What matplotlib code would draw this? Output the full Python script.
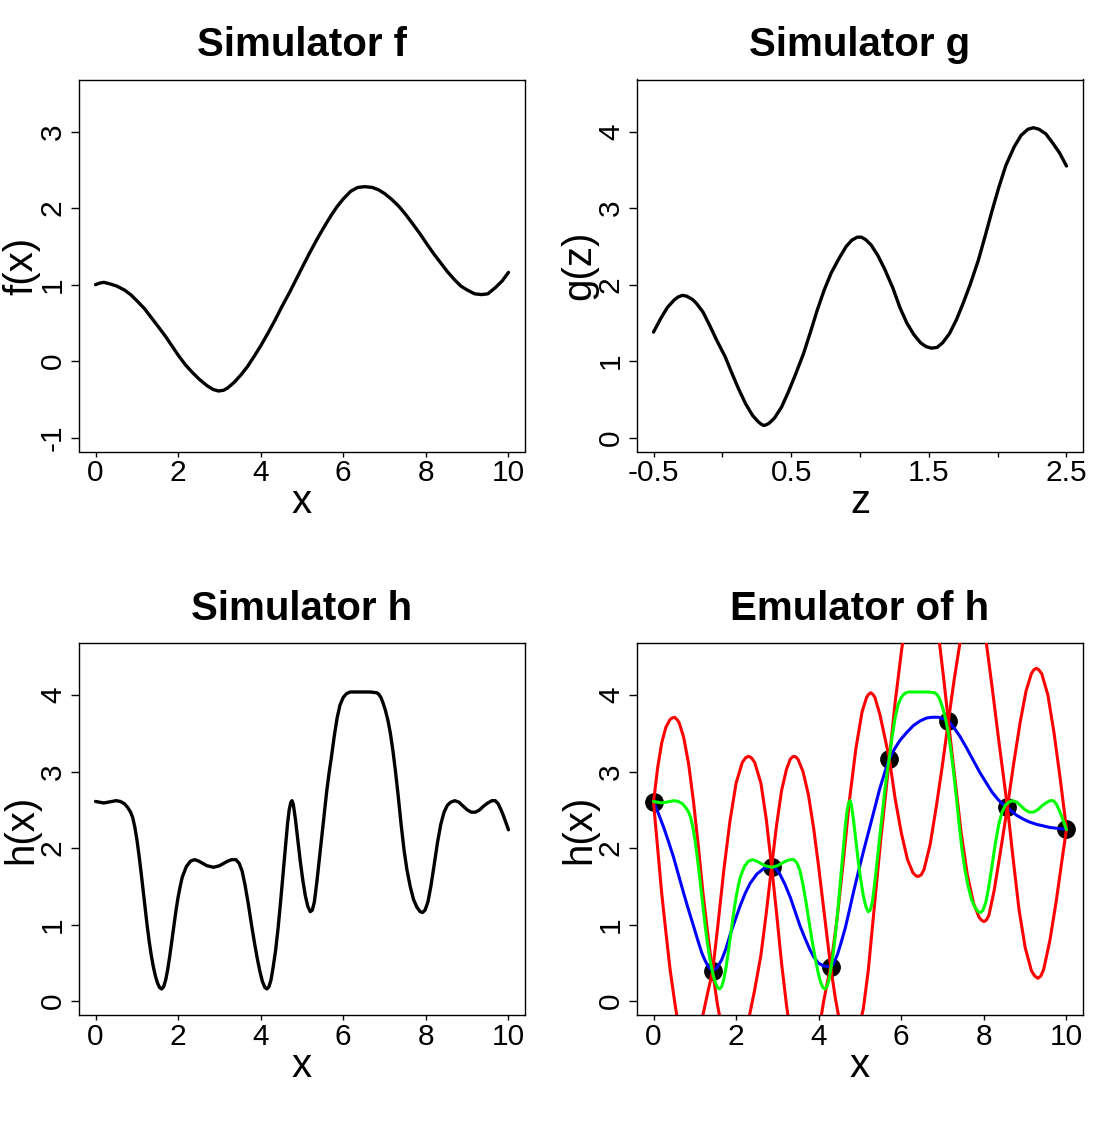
"""Four panels: simulators f, g, h = g(f(x)) and a GP emulator of h."""

import matplotlib
matplotlib.use("Agg")
import matplotlib.pyplot as plt

plt.rcParams["font.family"] = ["Liberation Sans", "DejaVu Sans"]
plt.rcParams["axes.unicode_minus"] = False

# simulator f
F_X = [0.00, 0.10, 0.20, 0.35, 0.52, 0.70, 0.85, 1.00, 1.18, 1.35, 1.52, 1.70, 1.85,
       2.00, 2.18, 2.35, 2.52, 2.70, 2.85, 2.98, 3.10, 3.20, 3.35, 3.52, 3.68, 3.85,
       4.00, 4.18, 4.35, 4.52, 4.70, 4.85, 5.00, 5.18, 5.35, 5.52, 5.70, 5.85, 6.00,
       6.18, 6.35, 6.52, 6.70, 6.85, 7.00, 7.18, 7.35, 7.52, 7.70, 7.85, 8.00, 8.18,
       8.35, 8.52, 8.70, 8.85, 9.00, 9.18, 9.35, 9.50, 9.68, 9.85, 10.00]
F_Y = [1.00, 1.02, 1.03, 1.01, 0.98, 0.93, 0.87, 0.79, 0.69, 0.57, 0.45, 0.32, 0.20,
       0.08, -0.05, -0.15, -0.24, -0.32, -0.37, -0.39, -0.38, -0.35, -0.28, -0.18, -0.07, 0.07,
       0.20, 0.37, 0.54, 0.72, 0.90, 1.06, 1.22, 1.41, 1.58, 1.74, 1.90, 2.02, 2.12,
       2.22, 2.27, 2.28, 2.27, 2.24, 2.19, 2.11, 2.02, 1.91, 1.78, 1.67, 1.55, 1.41,
       1.29, 1.17, 1.06, 0.98, 0.93, 0.88, 0.87, 0.88, 0.96, 1.05, 1.16]

# simulator g
G_Z = [-0.50, -0.45, -0.40, -0.35, -0.32, -0.29, -0.26, -0.22, -0.19, -0.14, -0.09, -0.04,
       0.02, 0.07, 0.12, 0.17, 0.22, 0.26, 0.28, 0.30, 0.32, 0.34, 0.38, 0.43, 0.48,
       0.53, 0.59, 0.64, 0.69, 0.74, 0.79, 0.85, 0.90, 0.94, 0.98, 1.01, 1.04, 1.08,
       1.13, 1.18, 1.24, 1.29, 1.34, 1.39, 1.44, 1.48, 1.52, 1.56, 1.60, 1.65, 1.70,
       1.75, 1.80, 1.86, 1.91, 1.96, 2.01, 2.06, 2.12, 2.17, 2.22, 2.26, 2.30, 2.35,
       2.40, 2.45, 2.50]
G_Y = [1.38, 1.55, 1.70, 1.80, 1.84, 1.86, 1.85, 1.81, 1.76, 1.64, 1.46, 1.27,
       1.06, 0.84, 0.63, 0.44, 0.29, 0.21, 0.18, 0.16, 0.17, 0.19, 0.26, 0.40, 0.60,
       0.82, 1.10, 1.38, 1.67, 1.93, 2.15, 2.35, 2.50, 2.58, 2.62, 2.62, 2.59, 2.52,
       2.38, 2.20, 1.95, 1.70, 1.50, 1.35, 1.24, 1.19, 1.17, 1.18, 1.24, 1.36, 1.54,
       1.76, 2.00, 2.32, 2.64, 2.97, 3.28, 3.56, 3.80, 3.95, 4.03, 4.05, 4.03, 3.97,
       3.85, 3.72, 3.55]

# simulator h (also the green "truth" line on the emulator panel)
H_X = [0.00, 0.10, 0.20, 0.30, 0.40, 0.50, 0.60, 0.70, 0.78, 0.85, 0.90, 0.95, 1.00,
       1.05, 1.10, 1.15, 1.20, 1.25, 1.30, 1.35, 1.40, 1.45, 1.50, 1.55, 1.60, 1.65,
       1.70, 1.75, 1.80, 1.85, 1.90, 1.95, 2.00, 2.05, 2.10, 2.20, 2.30, 2.40, 2.50,
       2.60, 2.70, 2.86, 3.00, 3.10, 3.20, 3.30, 3.40, 3.48, 3.55, 3.62, 3.70, 3.78,
       3.85, 3.92, 3.98, 4.04, 4.10, 4.15, 4.20, 4.25, 4.30, 4.36, 4.42, 4.48, 4.54,
       4.60, 4.65, 4.69, 4.73, 4.76, 4.79, 4.84, 4.90, 4.96, 5.02, 5.08, 5.14, 5.20,
       5.25, 5.30, 5.36, 5.42, 5.48, 5.54, 5.60, 5.66, 5.71, 5.78, 5.85, 5.92, 6.00,
       6.08, 6.17, 6.30, 6.49, 6.65, 6.81, 6.86, 6.91, 6.96, 7.02, 7.08, 7.14, 7.20,
       7.26, 7.33, 7.40, 7.47, 7.54, 7.62, 7.70, 7.78, 7.86, 7.92, 7.98, 8.05, 8.12,
       8.20, 8.28, 8.36, 8.44, 8.52, 8.60, 8.70, 8.80, 8.90, 9.00, 9.10, 9.20, 9.30,
       9.40, 9.50, 9.60, 9.68, 9.75, 9.82, 9.88, 9.94, 10.00]
H_Y = [2.61, 2.60, 2.59, 2.60, 2.61, 2.62, 2.61, 2.58, 2.53, 2.47, 2.40, 2.28, 2.12,
       1.92, 1.70, 1.46, 1.22, 0.99, 0.78, 0.60, 0.45, 0.33, 0.24, 0.18, 0.16, 0.19,
       0.28, 0.42, 0.60, 0.80, 1.00, 1.19, 1.36, 1.50, 1.62, 1.76, 1.83, 1.85, 1.83,
       1.80, 1.77, 1.75, 1.77, 1.80, 1.83, 1.85, 1.85, 1.80, 1.70, 1.52, 1.27, 0.99,
       0.76, 0.55, 0.39, 0.26, 0.18, 0.16, 0.19, 0.28, 0.44, 0.66, 0.95, 1.29, 1.66,
       2.02, 2.32, 2.50, 2.60, 2.62, 2.57, 2.38, 2.10, 1.82, 1.58, 1.38, 1.24, 1.17,
       1.19, 1.30, 1.56, 1.86, 2.16, 2.46, 2.75, 3.00, 3.18, 3.46, 3.70, 3.87, 3.97,
       4.02, 4.04, 4.04, 4.04, 4.04, 4.03, 4.01, 3.97, 3.90, 3.80, 3.67, 3.50, 3.28,
       3.02, 2.68, 2.31, 1.98, 1.72, 1.50, 1.33, 1.23, 1.17, 1.16, 1.19, 1.30, 1.50,
       1.78, 2.07, 2.31, 2.47, 2.56, 2.60, 2.62, 2.60, 2.55, 2.50, 2.47, 2.47, 2.50,
       2.55, 2.59, 2.62, 2.62, 2.58, 2.50, 2.42, 2.33, 2.24]

# design runs
DESIGN_X = [0.00, 1.43, 2.86, 4.29, 5.71, 7.14, 8.57, 10.00]
DESIGN_Y = [2.60, 0.39, 1.76, 0.45, 3.17, 3.66, 2.54, 2.25]

# emulator mean (blue)
EM_X = [0.00, 0.12, 0.24, 0.36, 0.48, 0.60, 0.73, 0.85, 0.97, 1.07, 1.17, 1.25, 1.33,
        1.43, 1.54, 1.65, 1.75, 1.85, 1.97, 2.10, 2.22, 2.34, 2.50, 2.66, 2.86, 2.96,
        3.06, 3.18, 3.31, 3.43, 3.55, 3.67, 3.79, 3.89, 3.99, 4.12, 4.29, 4.37, 4.46,
        4.55, 4.64, 4.74, 4.84, 4.96, 5.08, 5.24, 5.36, 5.48, 5.60, 5.71, 5.84, 5.97,
        6.13, 6.29, 6.45, 6.61, 6.75, 6.90, 7.03, 7.14, 7.28, 7.42, 7.58, 7.74, 7.90,
        8.06, 8.20, 8.35, 8.45, 8.57, 8.68, 8.79, 8.95, 9.11, 9.28, 9.44, 9.60, 9.76,
        9.88, 10.00]
EM_MEAN = [2.60, 2.45, 2.28, 2.09, 1.89, 1.66, 1.41, 1.19, 0.98, 0.80, 0.63, 0.53, 0.45,
           0.40, 0.44, 0.54, 0.68, 0.86, 1.05, 1.25, 1.41, 1.54, 1.66, 1.73, 1.76, 1.73,
           1.66, 1.53, 1.36, 1.17, 0.98, 0.82, 0.67, 0.57, 0.50, 0.46, 0.45, 0.50, 0.62,
           0.78, 0.95, 1.18, 1.42, 1.69, 1.95, 2.28, 2.53, 2.78, 2.99, 3.17, 3.30, 3.41,
           3.51, 3.60, 3.66, 3.70, 3.71, 3.71, 3.69, 3.66, 3.57, 3.46, 3.31, 3.15, 2.99,
           2.85, 2.73, 2.63, 2.58, 2.53, 2.48, 2.43, 2.38, 2.34, 2.31, 2.29, 2.27, 2.26,
           2.25, 2.25]

# the two red curves (they swap sides at every design run)
RED_A_X = [0.00, 0.10, 0.20, 0.30, 0.40, 0.45, 0.51, 0.57, 0.62, 0.73, 0.85, 0.97, 1.09,
           1.20, 1.32, 1.43, 1.55, 1.70, 1.85, 2.00, 2.15, 2.30, 2.45, 2.60, 2.73, 2.86,
           2.98, 3.10, 3.22, 3.31, 3.36, 3.40, 3.45, 3.50, 3.62, 3.75, 3.88, 4.00, 4.10,
           4.20, 4.29, 4.40, 4.50, 4.65, 4.80, 4.95, 5.08, 5.20, 5.35, 5.50, 5.61, 5.71,
           5.85, 6.01, 6.20, 6.47, 6.75, 6.92, 7.03, 7.14, 7.30, 7.45, 7.60, 7.75, 7.88,
           7.94, 8.00, 8.06, 8.12, 8.25, 8.40, 8.57, 8.72, 8.88, 9.02, 9.15, 9.21, 9.27,
           9.33, 9.40, 9.55, 9.70, 9.85, 10.00]
RED_A_Y = [2.60, 3.05, 3.38, 3.58, 3.68, 3.70, 3.71, 3.68, 3.64, 3.45, 3.10, 2.60, 2.00,
           1.40, 0.85, 0.39, -0.05, -0.48, -0.68, -0.70, -0.55, -0.25, 0.15, 0.60, 1.15, 1.76,
           2.30, 2.75, 3.03, 3.16, 3.19, 3.20, 3.19, 3.16, 3.00, 2.70, 2.25, 1.75, 1.30,
           0.85, 0.45, 0.05, -0.25, -0.55, -0.60, -0.40, -0.10, 0.40, 1.25, 2.10, 2.65, 3.17,
           3.90, 4.60, 5.30, 5.75, 5.35, 4.70, 4.20, 3.66, 2.90, 2.20, 1.65, 1.28, 1.10,
           1.06, 1.04, 1.06, 1.12, 1.45, 1.95, 2.54, 3.10, 3.65, 4.05, 4.28, 4.33, 4.35,
           4.33, 4.28, 4.00, 3.50, 2.90, 2.25]
RED_B_X = [0.00, 0.10, 0.20, 0.30, 0.40, 0.51, 0.62, 0.75, 0.88, 1.00, 1.12, 1.22, 1.32,
           1.43, 1.55, 1.70, 1.85, 2.00, 2.15, 2.23, 2.30, 2.37, 2.45, 2.60, 2.73, 2.86,
           2.98, 3.10, 3.22, 3.35, 3.50, 3.65, 3.80, 3.92, 4.03, 4.12, 4.20, 4.29, 4.45,
           4.60, 4.75, 4.90, 5.05, 5.16, 5.21, 5.26, 5.31, 5.36, 5.48, 5.60, 5.71, 5.85,
           6.00, 6.15, 6.28, 6.35, 6.41, 6.48, 6.55, 6.70, 6.85, 7.00, 7.14, 7.28, 7.42,
           7.58, 7.74, 7.90, 8.06, 8.20, 8.35, 8.47, 8.57, 8.70, 8.85, 9.00, 9.15, 9.23,
           9.31, 9.38, 9.45, 9.60, 9.75, 9.88, 10.00]
RED_B_Y = [2.60, 2.00, 1.40, 0.90, 0.42, 0.00, -0.38, -0.62, -0.70, -0.60, -0.38, -0.12, 0.13,
           0.39, 0.95, 1.70, 2.35, 2.85, 3.12, 3.18, 3.20, 3.18, 3.12, 2.85, 2.38, 1.76,
           1.15, 0.50, -0.05, -0.55, -0.95, -1.10, -1.00, -0.70, -0.30, 0.00, 0.22, 0.45, 1.10,
           1.85, 2.65, 3.30, 3.78, 3.97, 4.01, 4.03, 4.01, 3.97, 3.75, 3.45, 3.17, 2.65,
           2.20, 1.85, 1.68, 1.64, 1.63, 1.65, 1.72, 2.05, 2.55, 3.10, 3.66, 4.20, 4.68,
           5.15, 5.35, 5.15, 4.68, 4.10, 3.45, 2.95, 2.54, 1.90, 1.20, 0.70, 0.40, 0.33,
           0.30, 0.33, 0.42, 0.80, 1.30, 1.80, 2.25]

X_TICKS = [0, 2, 4, 6, 8, 10]
Z_TICKS = [-0.5, 0, 0.5, 1, 1.5, 2, 2.5]
Z_TICK_LABELS = ["-0.5", "", "0.5", "", "1.5", "", "2.5"]
F_TICKS = [-1, 0, 1, 2, 3]
H_TICKS = [0, 1, 2, 3, 4]

FIG_W, FIG_H = 1115, 1127
LINE = dict(solid_capstyle="round", solid_joinstyle="round")


def _rect(left_px, top_px, w_px=446, h_px=372):
    return [left_px / FIG_W, 1 - (top_px + h_px) / FIG_H, w_px / FIG_W, h_px / FIG_H]


def _panel(fig, rect, title, xlabel, ylabel, xlim, ylim, xticks, yticks, xticklabels=None):
    ax = fig.add_axes(rect)
    ax.set_xlim(*xlim)
    ax.set_ylim(*ylim)
    ax.set_xticks(xticks)
    ax.set_xticklabels(xticklabels if xticklabels else [f"{t:g}" for t in xticks])
    ax.set_yticks(yticks)
    ax.set_yticklabels([f"{t:g}" for t in yticks])
    for side in ax.spines.values():
        side.set_linewidth(1.0)
        side.set_color("black")
    ax.tick_params(axis="both", width=1.0, labelsize=21.5, colors="black")
    ax.tick_params(axis="x", length=3.3, pad=2.2)
    ax.tick_params(axis="y", length=5.5, pad=3.2)
    for lab in ax.get_yticklabels():
        lab.set_rotation(90)
        lab.set_va("center")
    ax.text(0.5, 1.063, title, transform=ax.transAxes, ha="center", va="baseline",
            fontsize=29, fontweight="bold")
    ax.text(0.5, -0.166, xlabel, transform=ax.transAxes, ha="center", va="baseline",
            fontsize=29)
    ax.text(-0.104, 0.5, ylabel, transform=ax.transAxes, ha="center", va="baseline",
            rotation=90, rotation_mode="anchor", fontsize=29)
    return ax


def main() -> None:
    fig = plt.figure(figsize=(FIG_W / 100, FIG_H / 100), dpi=100)
    xlim10 = (-0.4, 10.4)
    ylim_h = (-0.18, 4.68)

    ax = _panel(fig, _rect(79, 79.5), "Simulator f", "x", "f(x)", xlim10, (-1.18, 3.68),
                X_TICKS, F_TICKS)
    ax.plot(F_X, F_Y, color="black", lw=2.4, **LINE)

    ax = _panel(fig, _rect(637, 79.5), "Simulator g", "z", "g(z)", (-0.62, 2.62), ylim_h,
                Z_TICKS, H_TICKS, Z_TICK_LABELS)
    ax.plot(G_Z, G_Y, color="black", lw=2.4, **LINE)

    ax = _panel(fig, _rect(79, 643), "Simulator h", "x", "h(x)", xlim10, ylim_h,
                X_TICKS, H_TICKS)
    ax.plot(H_X, H_Y, color="black", lw=2.4, **LINE)

    ax = _panel(fig, _rect(637, 643), "Emulator of h", "x", "h(x)", xlim10, ylim_h,
                X_TICKS, H_TICKS)
    ax.plot(DESIGN_X, DESIGN_Y, "o", color="black", ms=12.5, zorder=2)
    ax.plot(EM_X, EM_MEAN, color="#0000FF", lw=2.2, zorder=3, **LINE)
    ax.plot(RED_A_X, RED_A_Y, color="#FF0000", lw=2.2, zorder=3, **LINE)
    ax.plot(RED_B_X, RED_B_Y, color="#FF0000", lw=2.2, zorder=3, **LINE)
    ax.plot(H_X, H_Y, color="#00FF00", lw=2.2, zorder=4, **LINE)

    fig.savefig("out.png", dpi=100)
    plt.close(fig)


if __name__ == "__main__":
    main()
